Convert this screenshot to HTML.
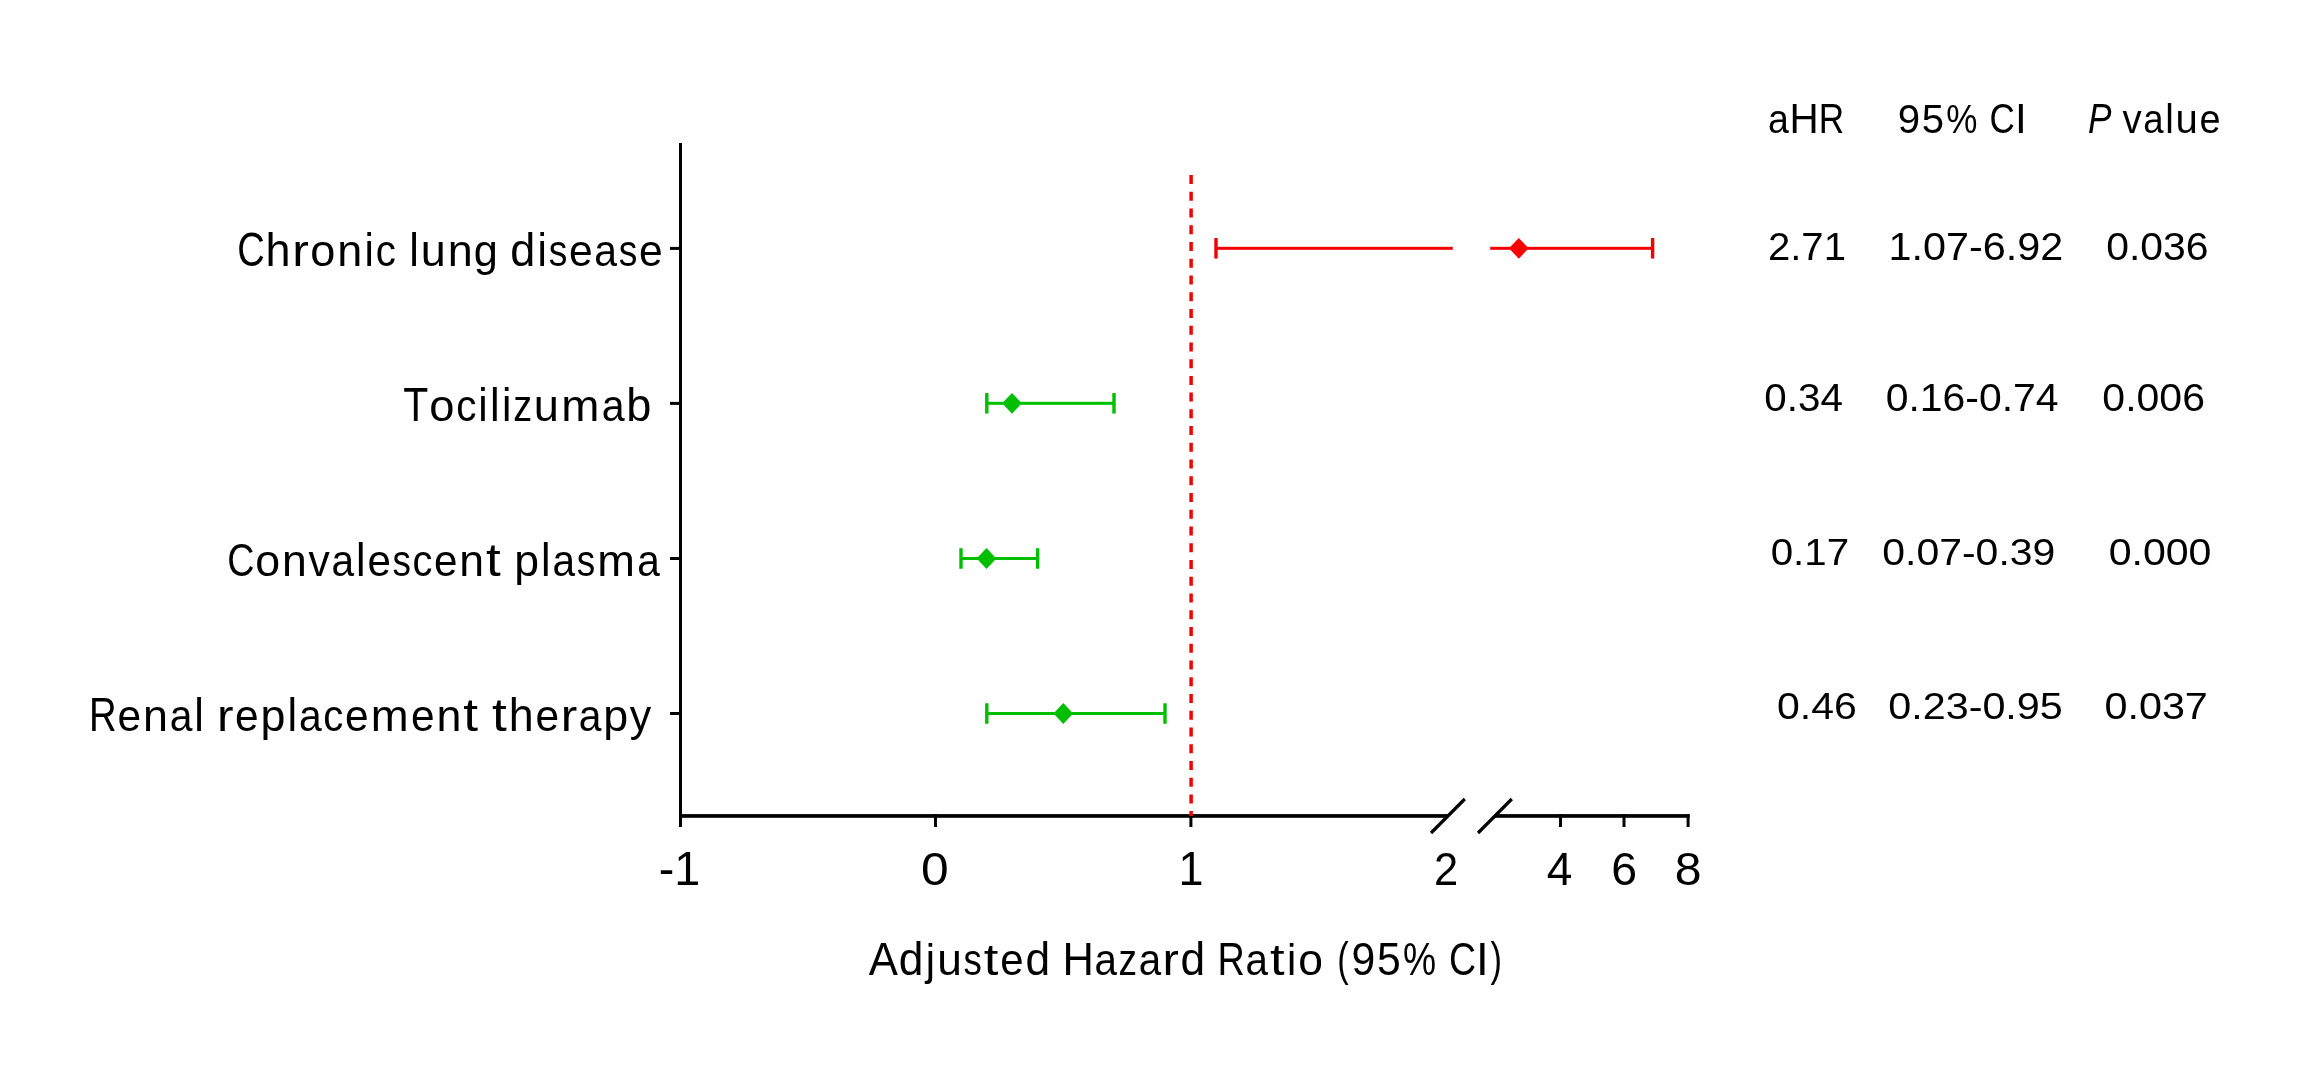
<!DOCTYPE html>
<html><head><meta charset="utf-8"><title>Forest plot</title>
<style>html,body{margin:0;padding:0;background:#fff;}svg{display:block;}</style></head>
<body><svg width="2312" height="1079" viewBox="0 0 2312 1079" style="font-family:'Liberation Sans',sans-serif">
<rect width="2312" height="1079" fill="#fff"/>
<rect x="679" y="143" width="3" height="684" fill="#000"/>
<rect x="679" y="814.1" width="768.5" height="3.7" fill="#000"/>
<rect x="1495" y="814.1" width="194.6" height="3.7" fill="#000"/>
<rect x="934.00" y="814" width="3" height="13" fill="#000"/>
<rect x="1189.40" y="814" width="3" height="13" fill="#000"/>
<rect x="1559.00" y="814" width="3" height="13" fill="#000"/>
<rect x="1622.50" y="814" width="3" height="13" fill="#000"/>
<rect x="1686.60" y="814" width="3" height="13" fill="#000"/>
<line x1="1431" y1="833" x2="1464.8" y2="799" stroke="#000" stroke-width="3.2"/>
<line x1="1478" y1="833" x2="1511.8" y2="799" stroke="#000" stroke-width="3.2"/>
<rect x="670" y="246.90" width="10" height="3" fill="#000"/>
<rect x="670" y="401.90" width="10" height="3" fill="#000"/>
<rect x="670" y="557.00" width="10" height="3" fill="#000"/>
<rect x="670" y="712.00" width="10" height="3" fill="#000"/>
<rect x="1216.00" y="246.80" width="236.80" height="3.0" fill="#f40000"/>
<rect x="1490.20" y="246.80" width="162.40" height="3.0" fill="#f40000"/>
<rect x="1214.30" y="238.05" width="3.4" height="20.5" fill="#f40000"/>
<rect x="1650.90" y="238.05" width="3.4" height="20.5" fill="#f40000"/>
<polygon points="1509.00,248.30 1518.80,237.90 1528.60,248.30 1518.80,258.70" fill="#ff0000"/>
<rect x="986.80" y="401.80" width="127.20" height="3.0" fill="#00bf00"/>
<rect x="985.10" y="393.05" width="3.4" height="20.5" fill="#00bf00"/>
<rect x="1112.30" y="393.05" width="3.4" height="20.5" fill="#00bf00"/>
<polygon points="1002.20,403.30 1012.00,392.90 1021.80,403.30 1012.00,413.70" fill="#00bf00"/>
<rect x="961.00" y="557.00" width="76.60" height="3.0" fill="#00bf00"/>
<rect x="959.30" y="548.25" width="3.4" height="20.5" fill="#00bf00"/>
<rect x="1035.90" y="548.25" width="3.4" height="20.5" fill="#00bf00"/>
<polygon points="976.70,558.50 986.50,548.10 996.30,558.50 986.50,568.90" fill="#00bf00"/>
<rect x="986.80" y="712.00" width="178.20" height="3.0" fill="#00bf00"/>
<rect x="985.10" y="703.25" width="3.4" height="20.5" fill="#00bf00"/>
<rect x="1163.30" y="703.25" width="3.4" height="20.5" fill="#00bf00"/>
<polygon points="1053.50,713.50 1063.30,703.10 1073.10,713.50 1063.30,723.90" fill="#00bf00"/>
<line x1="1191.1" y1="175" x2="1191.1" y2="816" stroke="#f40000" stroke-width="3.5" stroke-dasharray="9 7.74"/>
<g fill="#000" style="will-change:transform">
<text transform="translate(658.70 885.00) scale(0.9817 1)" font-size="47.54">-1</text>
<text transform="translate(921.01 884.93) scale(1.0562 1)" font-size="47.04">0</text>
<text transform="translate(1178.53 885.00) scale(0.9442 1)" font-size="47.54">1</text>
<text transform="translate(1433.92 885.00) scale(0.9231 1)" font-size="47.14">2</text>
<text transform="translate(1546.75 885.00) scale(0.9766 1)" font-size="47.10">4</text>
<text transform="translate(1611.37 884.93) scale(0.9889 1)" font-size="47.04">6</text>
<text transform="translate(1674.64 884.93) scale(1.0222 1)" font-size="47.04">8</text>
<text transform="translate(1767.89 259.80) scale(1.0476 1)" font-size="38.29">2.71</text>
<text transform="translate(1888.50 259.62) scale(1.0871 1)" font-size="38.03">1.07-6.92</text>
<text transform="translate(2106.16 259.62) scale(1.0758 1)" font-size="38.03">0.036</text>
<text transform="translate(1764.29 410.92) scale(1.0656 1)" font-size="37.89">0.34</text>
<text transform="translate(1885.66 410.92) scale(1.0799 1)" font-size="37.89">0.16-0.74</text>
<text transform="translate(2102.36 410.92) scale(1.0819 1)" font-size="37.89">0.006</text>
<text transform="translate(1770.69 565.33) scale(1.0886 1)" font-size="37.04">0.17</text>
<text transform="translate(1882.36 565.33) scale(1.1053 1)" font-size="37.04">0.07-0.39</text>
<text transform="translate(2108.66 565.33) scale(1.1088 1)" font-size="37.04">0.000</text>
<text transform="translate(1776.96 719.42) scale(1.0908 1)" font-size="37.61">0.46</text>
<text transform="translate(1888.25 719.42) scale(1.0983 1)" font-size="37.61">0.23-0.95</text>
<text transform="translate(2104.45 719.42) scale(1.0990 1)" font-size="37.61">0.037</text>
<text transform="translate(237.25 266.10) scale(0.8000 1)" font-size="47.59">C</text>
<text transform="translate(265.58 266.10) scale(0.9655 1)" font-size="46.57">h</text>
<text transform="translate(292.15 266.10) scale(1.1051 1)" font-size="45.08">r</text>
<text transform="translate(310.31 266.10) scale(1.0009 1)" font-size="45.08">o</text>
<text transform="translate(337.29 266.10) scale(0.9972 1)" font-size="45.08">n</text>
<text transform="translate(364.42 266.10) scale(0.9300 1)" font-size="45.39">i</text>
<text transform="translate(375.74 266.10) scale(0.8927 1)" font-size="45.08">c</text>
<text transform="translate(409.25 266.10) scale(0.9300 1)" font-size="46.57">l</text>
<text transform="translate(420.87 266.10) scale(0.9972 1)" font-size="45.08">u</text>
<text transform="translate(447.76 266.10) scale(0.9972 1)" font-size="45.08">n</text>
<text transform="translate(473.71 266.10) scale(0.9607 1)" font-size="45.08">g</text>
<text transform="translate(510.30 266.10) scale(0.9655 1)" font-size="46.57">d</text>
<text transform="translate(537.43 266.10) scale(0.9300 1)" font-size="45.39">i</text>
<text transform="translate(548.69 266.10) scale(0.8257 1)" font-size="45.08">s</text>
<text transform="translate(568.90 266.10) scale(0.9444 1)" font-size="45.08">e</text>
<text transform="translate(594.33 266.10) scale(0.9092 1)" font-size="45.08">a</text>
<text transform="translate(618.68 266.10) scale(0.8257 1)" font-size="45.08">s</text>
<text transform="translate(638.89 266.10) scale(0.9444 1)" font-size="45.08">e</text>
<text transform="translate(403.34 420.90) scale(0.8578 1)" font-size="47.76">T</text>
<text transform="translate(429.31 420.90) scale(1.0009 1)" font-size="45.25">o</text>
<text transform="translate(456.21 420.90) scale(0.8927 1)" font-size="45.25">c</text>
<text transform="translate(478.35 420.90) scale(0.9300 1)" font-size="45.56">i</text>
<text transform="translate(490.02 420.90) scale(0.9300 1)" font-size="46.74">l</text>
<text transform="translate(501.92 420.90) scale(0.9300 1)" font-size="45.56">i</text>
<text transform="translate(513.23 420.90) scale(0.8340 1)" font-size="45.25">z</text>
<text transform="translate(533.76 420.90) scale(0.9972 1)" font-size="45.25">u</text>
<text transform="translate(561.23 420.90) scale(1.0123 1)" font-size="45.25">m</text>
<text transform="translate(601.68 420.90) scale(0.9092 1)" font-size="45.25">a</text>
<text transform="translate(626.37 420.90) scale(0.9655 1)" font-size="46.74">b</text>
<text transform="translate(227.26 576.00) scale(0.8000 1)" font-size="47.15">C</text>
<text transform="translate(255.33 576.00) scale(1.0009 1)" font-size="44.67">o</text>
<text transform="translate(282.07 576.00) scale(0.9972 1)" font-size="44.67">n</text>
<text transform="translate(308.58 576.00) scale(0.9536 1)" font-size="44.67">v</text>
<text transform="translate(331.52 576.00) scale(0.9092 1)" font-size="44.67">a</text>
<text transform="translate(356.01 576.00) scale(0.9300 1)" font-size="46.14">l</text>
<text transform="translate(367.48 576.00) scale(0.9444 1)" font-size="44.67">e</text>
<text transform="translate(392.52 576.00) scale(0.8257 1)" font-size="44.67">s</text>
<text transform="translate(412.41 576.00) scale(0.8927 1)" font-size="44.67">c</text>
<text transform="translate(433.98 576.00) scale(0.9444 1)" font-size="44.67">e</text>
<text transform="translate(459.26 576.00) scale(0.9972 1)" font-size="44.67">n</text>
<text transform="translate(486.10 576.00) scale(1.1625 1)" font-size="45.53">t</text>
<text transform="translate(514.34 576.00) scale(0.9972 1)" font-size="44.67">p</text>
<text transform="translate(541.10 576.00) scale(0.9300 1)" font-size="46.14">l</text>
<text transform="translate(552.53 576.00) scale(0.9092 1)" font-size="44.67">a</text>
<text transform="translate(576.66 576.00) scale(0.8257 1)" font-size="44.67">s</text>
<text transform="translate(597.22 576.00) scale(1.0123 1)" font-size="44.67">m</text>
<text transform="translate(637.15 576.00) scale(0.9092 1)" font-size="44.67">a</text>
<text transform="translate(88.96 730.70) scale(0.8085 1)" font-size="47.41">R</text>
<text transform="translate(117.53 730.70) scale(0.9444 1)" font-size="44.91">e</text>
<text transform="translate(142.94 730.70) scale(0.9972 1)" font-size="44.91">n</text>
<text transform="translate(169.64 730.70) scale(0.9092 1)" font-size="44.91">a</text>
<text transform="translate(194.26 730.70) scale(0.9300 1)" font-size="46.39">l</text>
<text transform="translate(217.04 730.70) scale(1.1051 1)" font-size="44.91">r</text>
<text transform="translate(235.08 730.70) scale(0.9444 1)" font-size="44.91">e</text>
<text transform="translate(260.49 730.70) scale(0.9972 1)" font-size="44.91">p</text>
<text transform="translate(287.39 730.70) scale(0.9300 1)" font-size="46.39">l</text>
<text transform="translate(298.89 730.70) scale(0.9092 1)" font-size="44.91">a</text>
<text transform="translate(323.20 730.70) scale(0.8927 1)" font-size="44.91">c</text>
<text transform="translate(344.89 730.70) scale(0.9444 1)" font-size="44.91">e</text>
<text transform="translate(370.79 730.70) scale(1.0123 1)" font-size="44.91">m</text>
<text transform="translate(410.97 730.70) scale(0.9444 1)" font-size="44.91">e</text>
<text transform="translate(436.38 730.70) scale(0.9972 1)" font-size="44.91">n</text>
<text transform="translate(463.37 730.70) scale(1.1625 1)" font-size="45.77">t</text>
<text transform="translate(491.97 730.70) scale(1.1625 1)" font-size="45.77">t</text>
<text transform="translate(508.84 730.70) scale(0.9655 1)" font-size="46.39">h</text>
<text transform="translate(535.57 730.70) scale(0.9444 1)" font-size="44.91">e</text>
<text transform="translate(560.66 730.70) scale(1.1051 1)" font-size="44.91">r</text>
<text transform="translate(578.67 730.70) scale(0.9092 1)" font-size="44.91">a</text>
<text transform="translate(603.17 730.70) scale(0.9972 1)" font-size="44.91">p</text>
<text transform="translate(629.82 730.70) scale(0.9556 1)" font-size="44.91">y</text>
<text transform="translate(868.69 974.80) scale(0.9328 1)" font-size="46.86">A</text>
<text transform="translate(898.77 974.80) scale(0.9655 1)" font-size="45.86">d</text>
<text transform="translate(925.73 974.80) scale(0.9300 1)" font-size="44.70">j</text>
<text transform="translate(937.30 974.80) scale(0.9972 1)" font-size="44.40">u</text>
<text transform="translate(963.54 974.80) scale(0.8257 1)" font-size="44.40">s</text>
<text transform="translate(983.69 974.80) scale(1.1625 1)" font-size="45.25">t</text>
<text transform="translate(1000.32 974.80) scale(0.9444 1)" font-size="44.40">e</text>
<text transform="translate(1025.44 974.80) scale(0.9655 1)" font-size="45.86">d</text>
<text transform="translate(1062.38 974.80) scale(0.9277 1)" font-size="46.86">H</text>
<text transform="translate(1094.62 974.80) scale(0.9092 1)" font-size="44.40">a</text>
<text transform="translate(1118.61 974.80) scale(0.8340 1)" font-size="44.40">z</text>
<text transform="translate(1138.67 974.80) scale(0.9092 1)" font-size="44.40">a</text>
<text transform="translate(1162.57 974.80) scale(1.1051 1)" font-size="44.40">r</text>
<text transform="translate(1180.45 974.80) scale(0.9655 1)" font-size="45.86">d</text>
<text transform="translate(1217.39 974.80) scale(0.8085 1)" font-size="46.86">R</text>
<text transform="translate(1245.60 974.80) scale(0.9092 1)" font-size="44.40">a</text>
<text transform="translate(1270.03 974.80) scale(1.1625 1)" font-size="45.25">t</text>
<text transform="translate(1286.94 974.80) scale(0.9300 1)" font-size="44.70">i</text>
<text transform="translate(1298.27 974.80) scale(1.0009 1)" font-size="44.40">o</text>
<text transform="translate(1337.21 974.80) scale(0.7343 1)" font-size="46.86">(</text>
<text transform="translate(1351.48 974.80) scale(0.9365 1)" font-size="45.60">9</text>
<text transform="translate(1377.02 974.80) scale(0.9365 1)" font-size="45.60">5</text>
<text transform="translate(1403.10 974.80) scale(0.8167 1)" font-size="45.60">%</text>
<text transform="translate(1448.95 974.80) scale(0.8000 1)" font-size="46.86">C</text>
<text transform="translate(1475.92 974.80) scale(0.9751 1)" font-size="46.86">I</text>
<text transform="translate(1490.53 974.80) scale(0.7343 1)" font-size="46.86">)</text>
<text transform="translate(1767.90 132.80) scale(0.9358 1)" font-size="40.09">a</text>
<text transform="translate(1789.55 132.80) scale(0.9549 1)" font-size="42.31">H</text>
<text transform="translate(1818.72 132.80) scale(0.8321 1)" font-size="42.31">R</text>
<text transform="translate(1897.79 132.80) scale(0.9758 1)" font-size="41.18">9</text>
<text transform="translate(1921.81 132.80) scale(0.9758 1)" font-size="41.18">5</text>
<text transform="translate(1946.36 132.80) scale(0.8510 1)" font-size="41.18">%</text>
<text transform="translate(1989.59 132.80) scale(0.8272 1)" font-size="42.32">C</text>
<text transform="translate(2014.96 132.80) scale(1.0000 1)" font-size="42.32">I</text>
<text transform="translate(2087.88 132.80) scale(0.8354 1)" font-size="42.32" font-style="italic">P</text>
<text transform="translate(2122.50 132.80) scale(0.9566 1)" font-size="40.09">v</text>
<text transform="translate(2143.16 132.80) scale(0.9120 1)" font-size="40.09">a</text>
<text transform="translate(2165.22 132.80) scale(0.9300 1)" font-size="41.41">l</text>
<text transform="translate(2175.57 132.80) scale(1.0004 1)" font-size="40.09">u</text>
<text transform="translate(2199.51 132.80) scale(0.9474 1)" font-size="40.09">e</text>
</g>
</svg></body></html>
